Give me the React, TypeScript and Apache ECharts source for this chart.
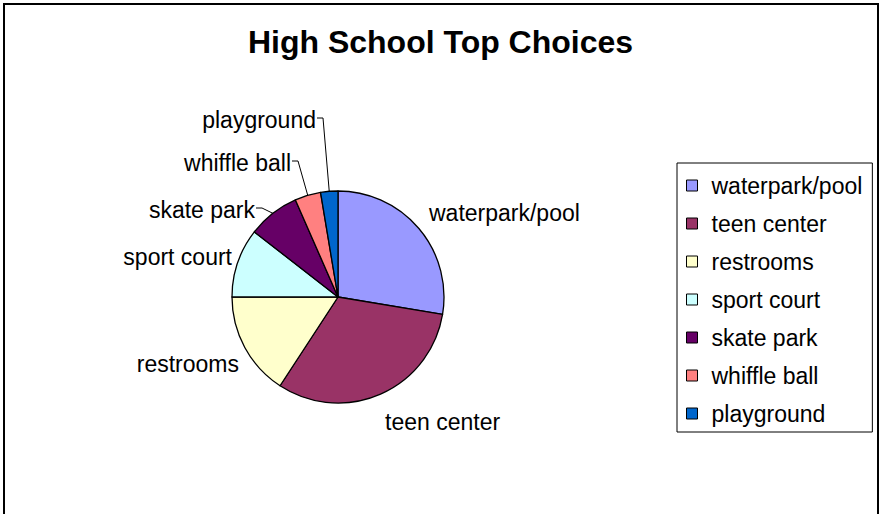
import React, { useEffect, useRef } from "react";
import * as echarts from "echarts";

const categories = [
  "waterpark/pool",
  "teen center",
  "restrooms",
  "sport court",
  "skate park",
  "whiffle ball",
  "playground",
];
const votes = [21, 24, 12, 8, 6, 3, 2];
const colors = ["#9999FF", "#993366", "#FFFFCC", "#CCFFFF", "#660066", "#FF8080", "#0066CC"];
const leaderLine = [false, false, false, false, true, true, true];

// label anchor positions (label layout only, not marks)
const labelPos: { x: number; y: number; align: "left" | "right" }[] = [
  { x: 429, y: 213, align: "left" },
  { x: 385, y: 422, align: "left" },
  { x: 239, y: 364, align: "right" },
  { x: 232, y: 257, align: "right" },
  { x: 255, y: 210, align: "right" },
  { x: 291, y: 163, align: "right" },
  { x: 316, y: 120, align: "right" },
];

const FONT = "'Liberation Sans', Arial, Helvetica, sans-serif";

export default function App() {
  const ref = useRef<HTMLDivElement>(null);
  useEffect(() => {
    if (!ref.current) return;
    const chart = echarts.init(ref.current, undefined, { renderer: "svg" });
    chart.setOption({
      animation: false,
      backgroundColor: "#ffffff",
      color: colors,
      title: {
        text: "High School Top Choices",
        left: "center",
        top: 26,
        padding: 0,
        textStyle: { fontFamily: FONT, fontWeight: "bold", fontSize: 32, color: "#000" },
      },
      graphic: [
        {
          type: "rect",
          shape: { x: 4, y: 4, width: 874, height: 600 },
          style: { fill: "none", stroke: "#000", lineWidth: 2 },
          silent: true,
        },
      ],
      legend: {
        orient: "vertical",
        left: 677,
        top: 163,
        padding: [11, 10, 7, 9],
        itemGap: 15,
        itemWidth: 11,
        itemHeight: 11,
        icon: "rect",
        borderColor: "#000",
        borderWidth: 1,
        backgroundColor: "#fff",
        itemStyle: { borderColor: "#000", borderWidth: 1 },
        textStyle: {
          fontFamily: FONT,
          fontSize: 23,
          lineHeight: 23,
          color: "#000",
          padding: [0, 0, 0, 9],
        },
        data: categories,
      },
      series: [
        {
          type: "pie",
          center: [338, 297],
          radius: 106,
          startAngle: 90,
          clockwise: true,
          avoidLabelOverlap: false,
          itemStyle: { borderColor: "#000", borderWidth: 1.3 },
          emphasis: { disabled: true },
          label: {
            show: true,
            position: "outside",
            fontFamily: FONT,
            fontSize: 23,
            color: "#000",
            formatter: "{b}",
          },
          labelLine: {
            show: true,
            length: 8,
            length2: 6,
            lineStyle: { color: "#000", width: 1 },
          },
          labelLayout: (params: any) => {
            const p = labelPos[params.dataIndex];
            const res: any = { x: p.x, y: p.y, align: p.align, verticalAlign: "middle" };
            if (leaderLine[params.dataIndex] && params.labelLinePoints) {
              const edge = params.labelLinePoints[0];
              res.labelLinePoints = [
                [edge[0], edge[1]],
                [p.x + 7, p.y - 2],
                [p.x + 1, p.y - 2],
              ];
            }
            return res;
          },
          data: categories.map((name, i) => ({
            name,
            value: votes[i],
            labelLine: { show: leaderLine[i] },
          })),
        },
      ],
    });
    return () => chart.dispose();
  }, []);
  return (
    <div
      ref={ref}
      style={{ position: "absolute", left: 0, top: 0, width: 881, height: 514, background: "#fff" }}
    />
  );
}
